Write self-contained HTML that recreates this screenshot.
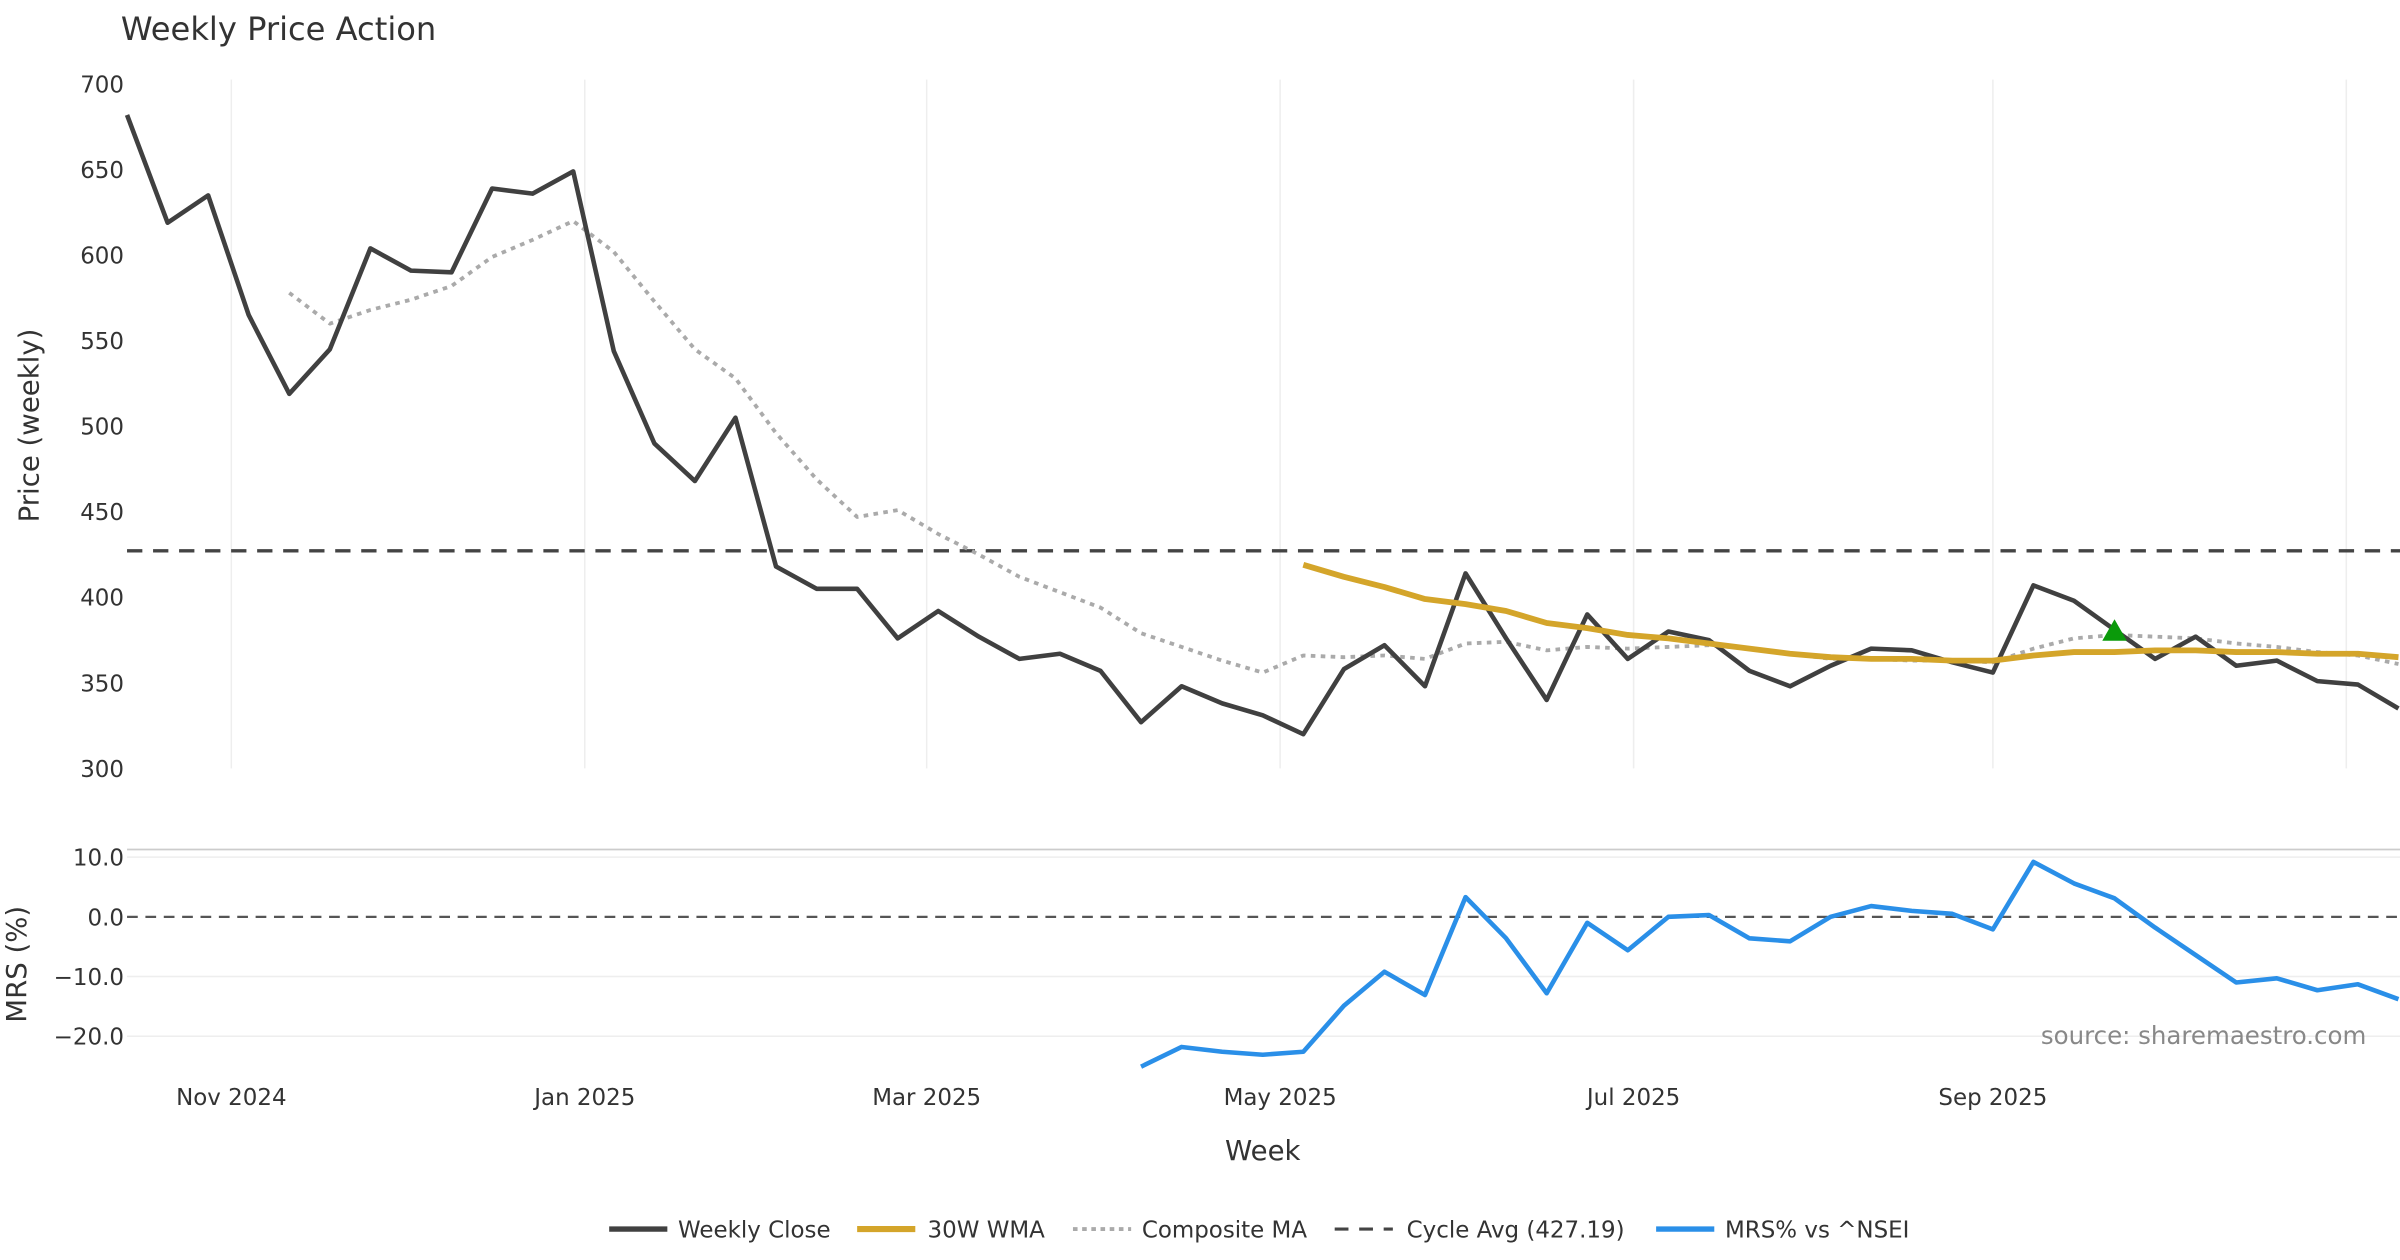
<!DOCTYPE html>
<html><head><meta charset="utf-8"><style>
html,body{margin:0;padding:0;background:#fff;}
svg{display:block;font-family:"DejaVu Sans","Liberation Sans",sans-serif;}
</style></head><body>
<svg id="chart" width="2400" height="1260" viewBox="0 0 1568 823.2" preserveAspectRatio="none" xmlns="http://www.w3.org/2000/svg">
<text x="79" y="26" font-size="21" fill="#333">Weekly Price Action</text>
<g id="grid"></g><g id="axes"></g><g id="series"></g>
<text transform="translate(25,278) rotate(-90)" font-size="18" fill="#333" text-anchor="middle">Price (weekly)</text>
<text transform="translate(17,630) rotate(-90)" font-size="18" fill="#333" text-anchor="middle">MRS (%)</text>
<text x="825" y="758" font-size="18" fill="#333" text-anchor="middle">Week</text>
<text x="1546" y="682" font-size="16" fill="#888" text-anchor="end">source: sharemaestro.com</text>
<g id="legend" font-size="15" fill="#333">
<g><line x1="398" y1="803" x2="436" y2="803" stroke="#404040" stroke-width="3.5"/><text x="443" y="808.5">Weekly Close</text></g>
<g><line x1="560" y1="803" x2="598" y2="803" stroke="#D4A52A" stroke-width="4"/><text x="606" y="808.5">30W WMA</text></g>
<g><line x1="701" y1="803" x2="739" y2="803" stroke="#aaa" stroke-width="2.5" stroke-dasharray="3,3"/><text x="746" y="808.5">Composite MA</text></g>
<g><line x1="872" y1="803" x2="910" y2="803" stroke="#444" stroke-width="2" stroke-dasharray="9,7"/><text x="919" y="808.5">Cycle Avg (427.19)</text></g>
<g><line x1="1082" y1="803" x2="1120" y2="803" stroke="#2A8FE8" stroke-width="3.5"/><text x="1127" y="808.5">MRS% vs ^NSEI</text></g>
</g>
</svg>
<script>
const closes=[682,619,635,565,519,545,604,591,590,639,636,649,544,490,468,505,418,405,405,376,392,377,364,367,357,327,348,338,331,320,358,372,348,414,376,340,390,364,380,375,357,348,360,370,369,362,356,407,398,381,364,377,360,363,351,349,335];
const compositeStart=4;
const composite=[578,560,568,574,582,599,609,620,602,573,545,528,496,469,447,451,437,425,412,403,394,379,371,363,356,366,365,366,364,373,374,369,371,370,371,372,370,367,364,364,363,363,362,370,376,378,377,376,373,371,368,366,361];
const wmaStart=29;
const wma=[419,412,406,399,396,392,385,382,378,376,373,370,367,365,364,364,363,363,366,368,368,369,369,368,368,367,367,365];
const mrsStart=25;
const mrs=[-25.1,-21.8,-22.6,-23.1,-22.6,-14.9,-9.2,-13.1,3.3,-3.6,-12.8,-1.0,-5.6,0,0.3,-3.6,-4.1,0,1.8,1.0,0.5,-2.1,9.2,5.6,3.1,-1.8,-6.4,-11.0,-10.3,-12.3,-11.3,-13.8];
const cycleAvg=427.19;
const signalIndex=49, signalValue=380;
const priceTicks=[300,350,400,450,500,550,600,650,700];
const mrsTicks=[10,0,-10,-20];
const monthTicks=["Nov 2024","Jan 2025","Mar 2025","May 2025","Jul 2025","Sep 2025",""];
const monthDates=["2024-11-01","2025-01-01","2025-03-01","2025-05-01","2025-07-01","2025-09-01","2025-11-01"];
const firstWeek="2024-10-14";

const NS="http://www.w3.org/2000/svg";
const X0=83, DX=26.5;
const x=i=>X0+i*DX;
const dayMs=86400000;
const xDate=d=>X0+(new Date(d)-new Date(firstWeek))/dayMs*(DX/7);
const yP=v=>502-(v-300)*(447/400);
const yM=v=>599-v*3.9;
function mk(tag,attrs,parent){const e=document.createElementNS(NS,tag);for(const k in attrs)e.setAttribute(k,attrs[k]);parent.appendChild(e);return e;}
const grid=document.getElementById('grid'),axes=document.getElementById('axes'),ser=document.getElementById('series');

monthTicks.forEach((t,i)=>{
  const xx=xDate(monthDates[i]);
  const g=mk('line',{x1:xx,x2:xx,y1:52,y2:502,stroke:'#eee','stroke-width':1},grid);
  
  
  if(t){
  const tx=mk('text',{x:xx,y:722,'font-size':15,fill:'#333','text-anchor':'middle'},axes);
  tx.textContent=t;
  
  }
});
priceTicks.forEach(v=>{
  const t=mk('text',{x:81,y:yP(v)+5.5,'font-size':15,fill:'#333','text-anchor':'end'},axes);
  t.textContent=v;
  
  
});
mrsTicks.forEach(v=>{
  if(v!==0){const g=mk('line',{x1:83,x2:1568,y1:yM(v),y2:yM(v),stroke:'#eee','stroke-width':1},grid);
  
  }
  const t=mk('text',{x:81,y:yM(v)+5.5,'font-size':15,fill:'#333','text-anchor':'end'},axes);
  t.textContent=(v<0?'\u2212'+Math.abs(v).toFixed(1):v.toFixed(1));
  
  
});
const sep=mk('line',{x1:83,x2:1568,y1:555,y2:555,stroke:'#ccc','stroke-width':1.2},grid);


const zl=mk('line',{x1:83,x2:1568,y1:yM(0),y2:yM(0),stroke:'#555','stroke-width':1.5,'stroke-dasharray':'7,5'},ser);


const ca=mk('line',{x1:83,x2:1568,y1:yP(cycleAvg),y2:yP(cycleAvg),stroke:'#444','stroke-width':2.2,'stroke-dasharray':'10,7'},ser);



function poly(vals,start,yf,attrs){return mk('polyline',Object.assign({points:vals.map((v,i)=>x(i+start)+','+yf(v)).join(' '),fill:'none','stroke-linejoin':'round'},attrs),ser);}
const c1=poly(composite,compositeStart,yP,{stroke:'#aaa','stroke-width':2.5,'stroke-dasharray':'3,3.5'});


const c2=poly(closes,0,yP,{stroke:'#404040','stroke-width':3});


const c3=poly(wma,wmaStart,yP,{stroke:'#D4A52A','stroke-width':3.8});


const c4=poly(mrs,mrsStart,yM,{stroke:'#2A8FE8','stroke-width':3});


const sx=x(signalIndex),sy=yP(signalValue);
const tri=mk('polygon',{points:`${sx},${sy-8} ${sx-8},${sy+6} ${sx+8},${sy+6}`,fill:'#0a9a0a'},ser);


</script>
</body></html>
